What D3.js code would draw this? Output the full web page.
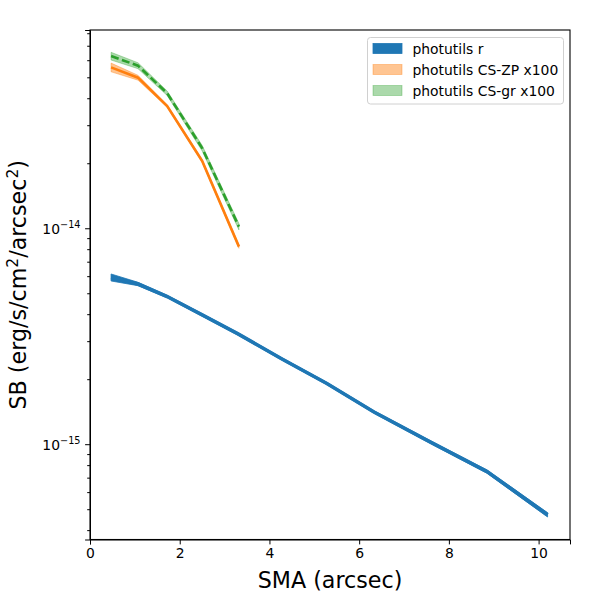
<!DOCTYPE html>
<html>
<head>
<meta charset="utf-8">
<script src="https://cdn.jsdelivr.net/npm/d3@7"></script>
<style>
    body { margin: 0; background: #fff; }
    svg { display: block; font-family: "DejaVu Sans", sans-serif; }
</style>
</head>
<body>
<svg id="chart" width="600" height="600"></svg>
<script>
// photutils r profile
const smaR = [0.47, 1.07, 1.72, 2.5, 3.3, 4.28, 5.28, 6.33, 7.6, 8.85, 10.2];
const sbR = [5.92e-15, 5.52e-15, 4.83e-15, 3.97e-15, 3.24e-15, 2.48e-15, 1.91e-15, 1.41e-15, 1.02e-15, 7.47e-16, 4.71e-16];
const errR = [2.2e-16, 1.0e-16, 0.7e-16, 0.55e-16, 0.45e-16, 0.33e-16, 0.26e-16, 0.2e-16, 0.16e-16, 0.13e-16, 0.11e-16];

// colour-scaled profiles (plotted x100)
const smaCS = [0.47, 1.07, 1.72, 2.5, 3.32];
const sbZP = [5.56e-16, 4.98e-16, 3.68e-16, 2.05e-16, 8.22e-17];
const errZP = [0.26e-16, 0.13e-16, 0.05e-16, 0.03e-16, 0.015e-16];
const sbGR = [6.27e-16, 5.66e-16, 4.22e-16, 2.35e-16, 1.017e-16];
const errGR = [0.26e-16, 0.18e-16, 0.1e-16, 0.07e-16, 0.035e-16];
const csFactor = 100;

const legendLabels = ['photutils r', 'photutils CS-ZP x100', 'photutils CS-gr x100'];
const xTicks = [0, 2, 4, 6, 8, 10];
const yMajor = [1e-15, 1e-14];

const width = 600, height = 600;
const marginLeft = 90, marginRight = 30, marginTop = 30, marginBottom = 60.5;

const x = d3.scaleLinear()
    .domain([0, 10.7])
    .range([marginLeft, width - marginRight]);
const y = d3.scaleLog()
    .domain([3.62e-16, 8.28e-14])
    .range([height - marginBottom, marginTop]);

const svg = d3.select('#chart');

const series = [
    {sma: smaR, sb: sbR, err: errR, k: 1, color: '#1f77b4', alpha: 1, dash: null, lw: 3.6},
    {sma: smaCS, sb: sbZP, err: errZP, k: csFactor, color: '#ff7f0e', alpha: 0.45, dash: null, lw: 2.6},
    {sma: smaCS, sb: sbGR, err: errGR, k: csFactor, color: '#2ca02c', alpha: 0.4, dash: '8,3.5', lw: 2.6},
];

const plot = svg.append('g').attr('class', 'lines');
series.forEach(s => {
    const pts = s.sma.map((v, i) => ({x: v, y: s.sb[i] * s.k, e: s.err[i] * s.k}));
    const area = d3.area()
        .x(d => x(d.x))
        .y0(d => y(d.y - d.e))
        .y1(d => y(d.y + d.e));
    plot.append('path')
        .datum(pts)
        .attr('d', area)
        .style('fill', s.color)
        .style('fill-opacity', s.alpha)
        .style('stroke', s.color)
        .style('stroke-opacity', s.alpha)
        .style('stroke-width', 0.8);
    const line = d3.line()
        .x(d => x(d.x))
        .y(d => y(d.y));
    plot.append('path')
        .datum(pts)
        .attr('d', line)
        .style('fill', 'none')
        .style('stroke', s.color)
        .style('stroke-width', s.lw)
        .style('stroke-dasharray', s.dash);
});

// Axes
const xAxis = svg.append('g')
    .attr('transform', `translate(0, ${height - marginBottom})`)
    .call(d3.axisBottom(x).tickValues(xTicks).tickSize(4.9).tickPadding(3.5).tickFormat(d3.format('d')));
xAxis.selectAll('text').style('font-size', '13.9px').style('fill', '#000').style('font-family', '"DejaVu Sans", sans-serif');

const yMinor = [];
for (let e = -16; e <= -14; e++) {
    for (let m = 2; m <= 9; m++) {
        const v = m * Math.pow(10, e);
        if (v >= y.domain()[0] && v <= y.domain()[1]) yMinor.push(v);
    }
}
svg.append('g')
    .attr('transform', `translate(${marginLeft}, 0)`)
    .call(d3.axisLeft(y).tickValues(yMinor).tickSize(2.8).tickFormat(''))
    .call(sel => sel.select('.domain').remove());

const yAxis = svg.append('g')
    .attr('transform', `translate(${marginLeft}, 0)`)
    .call(d3.axisLeft(y).tickValues(yMajor).tickSize(4.9).tickFormat(''));
yAxis.selectAll('.tick').each(function(d) {
    const t = d3.select(this).append('text')
        .attr('x', -9.5)
        .attr('y', 5)
        .attr('text-anchor', 'end')
        .style('fill', '#000')
        .style('font-size', '13.9px')
        .style('font-family', '"DejaVu Sans", sans-serif');
    t.append('tspan').text('10');
    t.append('tspan')
        .attr('dy', -6)
        .style('font-size', '9.7px')
        .text('\u2212' + Math.abs(Math.round(Math.log10(d))));
});

// Frame
svg.append('rect')
    .attr('x', marginLeft)
    .attr('y', marginTop)
    .attr('width', width - marginLeft - marginRight)
    .attr('height', height - marginTop - marginBottom)
    .style('fill', 'none')
    .style('stroke', '#000')
    .style('stroke-width', 1.1);

// Axis labels
svg.append('text')
    .attr('x', (marginLeft + width - marginRight) / 2)
    .attr('y', 588)
    .attr('text-anchor', 'middle')
    .style('font-size', '22.2px')
    .text('SMA (arcsec)');

const yl = svg.append('text')
    .attr('transform', `translate(26, ${(marginTop + height - marginBottom) / 2}) rotate(-90)`)
    .attr('text-anchor', 'middle')
    .style('font-size', '22.2px');
yl.append('tspan').text('SB (erg/s/cm');
yl.append('tspan').attr('dy', -8.5).style('font-size', '15.5px').text('2');
yl.append('tspan').attr('dy', 8.5).text('/arcsec');
yl.append('tspan').attr('dy', -8.5).style('font-size', '15.5px').text('2');
yl.append('tspan').attr('dy', 8.5).text(')');

// Legend
const legend = svg.append('g').attr('transform', 'translate(367.5, 37.5)');
legend.append('rect')
    .attr('width', 196)
    .attr('height', 66.5)
    .attr('rx', 3)
    .style('fill', '#fff')
    .style('fill-opacity', 0.8)
    .style('stroke', '#d0d0d0')
    .style('stroke-width', 1);
legendLabels.forEach((lab, i) => {
    const s = series[i];
    const row = legend.append('g').attr('transform', `translate(0, ${11 + i * 21})`);
    row.append('rect')
        .attr('x', 5.5)
        .attr('y', -5)
        .attr('width', 29)
        .attr('height', 10)
        .style('fill', s.color)
        .style('fill-opacity', s.alpha)
        .style('stroke', s.color)
        .style('stroke-opacity', s.alpha)
        .style('stroke-width', 0.8);
    row.append('text')
        .attr('x', 45)
        .attr('y', 5)
        .style('font-size', '13.9px')
        .text(lab);
});
</script>
</body>
</html>
